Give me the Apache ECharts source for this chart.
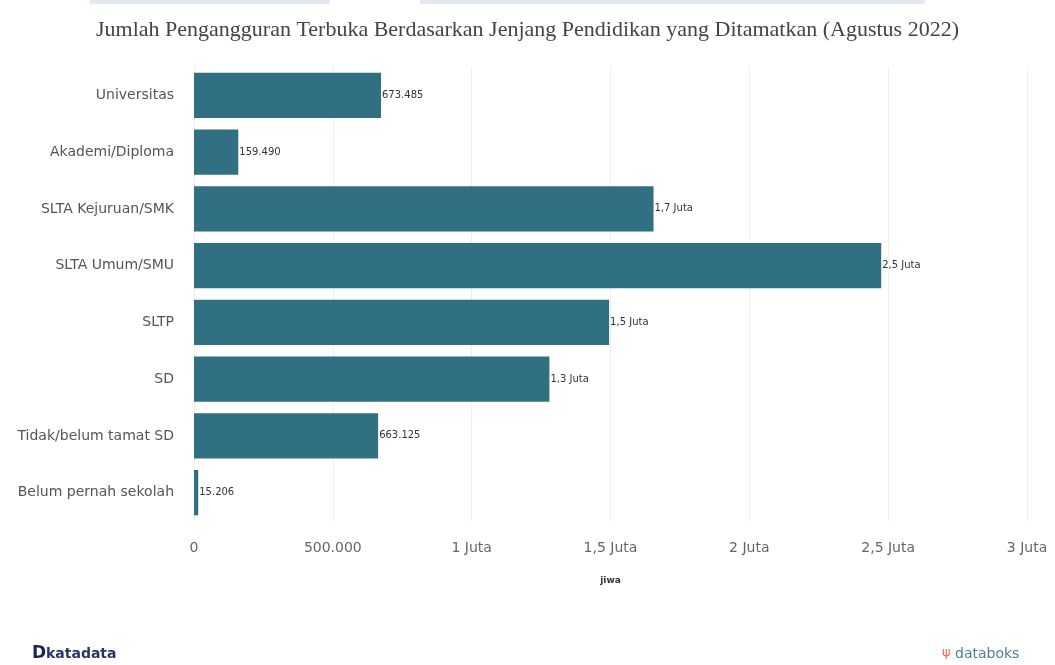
<!DOCTYPE html>
<html><head><meta charset="utf-8">
<script src="https://cdn.jsdelivr.net/npm/echarts@6/dist/echarts.min.js"></script>
<style>html,body{margin:0;padding:0;background:#fff}#c{width:1055px;height:665px}</style>
</head><body><div id="c"></div>
<script>
const titleText = 'Jumlah Pengangguran Terbuka Berdasarkan Jenjang Pendidikan yang Ditamatkan (Agustus 2022)';
const categories = ['Universitas','Akademi/Diploma','SLTA Kejuruan/SMK','SLTA Umum/SMU','SLTP','SD','Tidak/belum tamat SD','Belum pernah sekolah'];
const values = [673485, 159490, 1655000, 2475000, 1495000, 1280000, 663125, 15206];
const xTicks = [0, 500000, 1000000, 1500000, 2000000, 2500000, 3000000];
const axisName = 'jiwa';

function fmt(v){
  if (v >= 1000000) {
    const m = v/1000000;
    const s = (Math.round(m*10)/10).toString().replace('.', ',');
    return s + ' Juta';
  }
  return v.toString().replace(/\B(?=(\d{3})+(?!\d))/g, '.');
}

const chart = echarts.init(document.getElementById('c'));
chart.setOption({
  animation: false,
  title: {
    text: titleText, left: 'center', top: 14,
    textStyle: {fontFamily: 'Liberation Serif', fontWeight: 'normal', fontSize: 22, color: '#444'}
  },
  graphic: [
    {type:'rect', shape:{x:90,y:0,width:240,height:4}, style:{fill:'#e4e8f0'}},
    {type:'rect', shape:{x:420,y:0,width:505,height:4}, style:{fill:'#e4e8f0'}},
    {type:'text', left: 32, top: 645, style:{text:'D', fontFamily:'DejaVu Sans', fontWeight:'bold', fontSize:17, fill:'#1b2550'}},
    {type:'text', left: 46, top: 647, style:{text:'katadata', fontFamily:'DejaVu Sans', fontWeight:'bold', fontSize:14, fill:'#2a3566'}},
    {type:'text', left: 942, top: 646, style:{text:'\u03C8', fontFamily:'DejaVu Sans', fontSize:13, fill:'#e8734f'}},
    {type:'text', left: 955, top: 647, style:{text:'databoks', fontFamily:'DejaVu Sans', fontSize:14, fill:'#4f7f8c'}}
  ],
  grid: {left: 194, right: 28, top: 67, bottom: 144, containLabel: false},
  xAxis: {
    type: 'value', min: 0, max: 3000000, interval: 500000,
    name: axisName, nameLocation: 'middle', nameGap: 55,
    nameTextStyle: {fontFamily:'DejaVu Sans', fontSize: 9, fontWeight: 'bold', color: '#333'},
    axisLine: {show: false}, axisTick: {show: false},
    splitLine: {lineStyle: {color: '#eeeeee'}},
    axisLabel: {margin: 20, fontFamily: 'DejaVu Sans', fontSize: 14, color: '#666',
      formatter: v => v === 0 ? '0' : fmt(v)}
  },
  yAxis: {
    type: 'category', data: categories, inverse: true,
    axisLine: {show: false}, axisTick: {show: false},
    axisLabel: {margin: 20, fontFamily: 'DejaVu Sans', fontSize: 14, color: '#555'}
  },
  series: [{
    type: 'bar', data: values, barCategoryGap: '20%',
    itemStyle: {color: '#316f83'},
    label: {show: true, position: 'right', distance: 1, fontFamily: 'DejaVu Sans', fontSize: 10, color: '#333',
      formatter: p => fmt(p.value)}
  }]
});
</script></body></html>
